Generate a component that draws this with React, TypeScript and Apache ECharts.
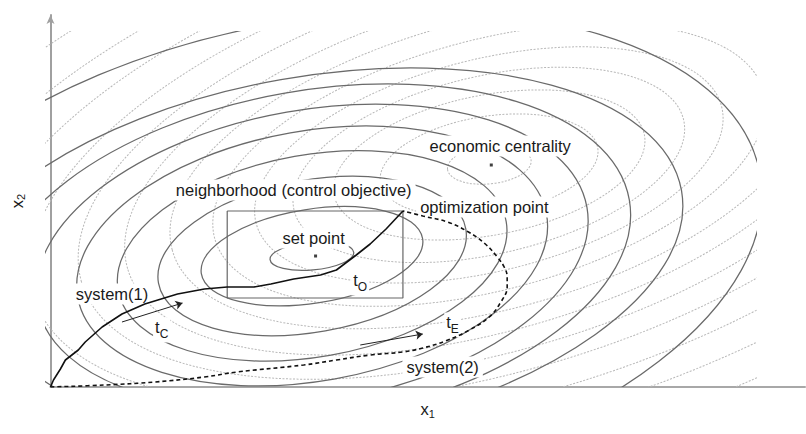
import React, { useEffect, useRef } from "react";
import * as echarts from "echarts";

// Abstract state space (x1, x2) units
const setPoint = [267, 131];
const economicCentrality = [444, 222];

// contour ellipses of the control objective, centred on the set point: [semi-major, semi-minor, tilt in degrees]
const controlContours = [
  [42, 14, 5],
  [112, 47, 9],
  [156, 76, 10],
  [197, 101, 10],
  [238, 125, 10],
  [279, 146, 10],
  [322, 165, 10],
  [375, 179, 10],
  [455, 235, 10.4],
];

// contour ellipses of the economic objective, centred on the economic centrality
const economicContours = [
  [42, 19, 6],
  [110, 49, 9],
  [158, 70, 11],
  [200, 89, 13],
  [240, 106, 14],
  [284, 125, 15],
  [328, 145, 15],
  [376, 166, 16],
  [424, 187, 16],
  [474, 208, 16],
  [532, 234, 16],
  [595, 261, 16],
  [665, 292, 16],
];

// neighbourhood box (control objective)
const boxX = [178, 355, 355, 178, 178];
const boxY = [176, 176, 89, 89, 176];

// trajectories
const system1X = [0, 3, 10, 15, 28, 35, 52, 72, 95, 118, 128, 155, 178, 205, 222, 245, 272, 288, 308, 322, 338, 355];
const system1Y = [0, 7, 18, 27, 37, 45, 60, 73, 83, 90, 93, 98, 100, 100, 103, 108, 112, 117, 132, 143, 158, 176];
const system2X = [0, 55, 105, 155, 188, 255, 288, 322, 355, 375, 398, 422, 442, 453, 460, 460, 457, 450, 438, 421, 400, 375, 355];
const system2Y = [0, 2, 5, 10, 15, 22, 27, 32, 35, 39, 46, 57, 70, 84, 100, 110, 120, 130, 143, 155, 165, 171, 176];

// direction arrows
const arrowsFrom = [[72, 65], [312, 42]];
const arrowsTo = [[133, 84], [375, 53]];

// annotations
const annotationText = [
  "economic centrality",
  "neighborhood (control objective)",
  "optimization point",
  "set point",
  "system(1)",
  "system(2)",
];
const annotationX = [453, 245, 437, 265, 62, 395];
const annotationY = [241, 197, 180, 149, 93, 20];

const timeSubscripts = ["C", "O", "E"];
const timeX = [112, 312, 405];
const timeY = [57, 104, 62];

const FONT = '"Liberation Sans", Arial, Helvetica, sans-serif';

export default function App() {
  const ref = useRef<HTMLDivElement>(null);

  useEffect(() => {
    if (!ref.current) return;
    const chart = echarts.init(ref.current, null, { renderer: "svg" });

    const ellipseRender = (color: string, width: number, dash: number[] | null) =>
      (params: any, api: any) => {
        const c = api.coord([api.value(0), api.value(1)]);
        const s = api.size([api.value(2), api.value(3)]);
        return {
          type: "ellipse",
          shape: { cx: c[0], cy: c[1], rx: s[0], ry: s[1] },
          originX: c[0],
          originY: c[1],
          rotation: (api.value(4) * Math.PI) / 180,
          style: { fill: "none", stroke: color, lineWidth: width, lineDash: dash },
          silent: true,
        };
      };

    const textStyle = {
      fill: "#1a1a1a",
      fontSize: 16.5,
      fontFamily: FONT,
      align: "center",
      verticalAlign: "middle",
      backgroundColor: "#fff",
      padding: [2, 4],
    };

    const axisName = {
      rich: {
        v: { fontSize: 16.5, fontFamily: FONT, color: "#1a1a1a" },
        s: { fontSize: 11, fontFamily: FONT, color: "#1a1a1a", padding: [9, 0, 0, 0] },
      },
    };

    chart.setOption({
      animation: false,
      backgroundColor: "#fff",
      grid: [
        { left: 45, top: 31, width: 712, height: 356 },
        { left: 45, top: 15, width: 760, height: 372 },
      ],
      xAxis: [
        { gridIndex: 0, type: "value", min: 0, max: 712, show: false },
        {
          gridIndex: 1,
          type: "value",
          min: 0,
          max: 760,
          splitLine: { show: false },
          axisTick: { show: false },
          axisLabel: { show: false },
          axisLine: { show: true, lineStyle: { color: "#a8a8a8", width: 2 } },
          name: "{v|x}{s|1}",
          nameLocation: "middle",
          nameGap: 12,
          nameTextStyle: axisName,
        },
      ],
      yAxis: [
        { gridIndex: 0, type: "value", min: 0, max: 356, show: false },
        {
          gridIndex: 1,
          type: "value",
          min: 0,
          max: 372,
          splitLine: { show: false },
          axisTick: { show: false },
          axisLabel: { show: false },
          axisLine: {
            show: true,
            symbol: ["none", "arrow"],
            symbolSize: [6, 9],
            lineStyle: { color: "#a0a0a0", width: 2 },
          },
          name: "{v|x}{s|2}",
          nameLocation: "middle",
          nameGap: 24,
          nameRotate: 90,
          nameTextStyle: axisName,
        },
      ],
      series: [
        {
          type: "custom",
          name: "economic contours",
          xAxisIndex: 0,
          yAxisIndex: 0,
          clip: true,
          z: 1,
          data: economicContours.map((c) => [...economicCentrality, ...c]),
          renderItem: ellipseRender("#b8b8b8", 1, [2, 1.5]),
        },
        {
          type: "custom",
          name: "control contours",
          xAxisIndex: 0,
          yAxisIndex: 0,
          clip: true,
          z: 2,
          data: controlContours.map((c) => [...setPoint, ...c]),
          renderItem: ellipseRender("#6a6a6a", 1.25, null),
        },
        {
          type: "custom",
          name: "annotations",
          xAxisIndex: 1,
          yAxisIndex: 1,
          z: 3,
          data: annotationText.map((t, i) => [annotationX[i], annotationY[i]]),
          renderItem: (params: any, api: any) => {
            const p = api.coord([api.value(0), api.value(1)]);
            return {
              type: "text",
              x: p[0],
              y: p[1],
              style: { ...textStyle, text: annotationText[params.dataIndex] },
              silent: true,
            };
          },
        },
        {
          type: "custom",
          name: "time labels",
          xAxisIndex: 1,
          yAxisIndex: 1,
          z: 3,
          data: timeSubscripts.map((t, i) => [timeX[i], timeY[i]]),
          renderItem: (params: any, api: any) => {
            const p = api.coord([api.value(0), api.value(1)]);
            return {
              type: "text",
              x: p[0],
              y: p[1],
              style: {
                ...textStyle,
                padding: [1, 2],
                text: "{t|t}{s|" + timeSubscripts[params.dataIndex] + "}",
                rich: {
                  t: { fontSize: 16.5, fontFamily: FONT, fill: "#1a1a1a", padding: [0, 0, 6, 0] },
                  s: { fontSize: 12, fontFamily: FONT, fill: "#1a1a1a", padding: [8, 0, 0, 0] },
                },
              },
              silent: true,
            };
          },
        },
        {
          type: "line",
          name: "neighborhood",
          xAxisIndex: 1,
          yAxisIndex: 1,
          z: 4,
          showSymbol: false,
          data: boxX.map((x, i) => [x, boxY[i]]),
          lineStyle: { color: "#666", width: 1.2 },
        },
        {
          type: "line",
          name: "system(1)",
          xAxisIndex: 1,
          yAxisIndex: 1,
          z: 5,
          showSymbol: false,
          data: system1X.map((x, i) => [x, system1Y[i]]),
          lineStyle: { color: "#111", width: 1.6 },
        },
        {
          type: "line",
          name: "system(2)",
          xAxisIndex: 1,
          yAxisIndex: 1,
          z: 5,
          showSymbol: false,
          smooth: 0.4,
          data: system2X.map((x, i) => [x, system2Y[i]]),
          lineStyle: { color: "#111", width: 1.6, type: [4, 3] },
        },
        {
          type: "lines",
          name: "arrows",
          coordinateSystem: "cartesian2d",
          xAxisIndex: 1,
          yAxisIndex: 1,
          z: 5,
          symbol: ["none", "arrow"],
          symbolSize: 7,
          data: arrowsFrom.map((f, i) => ({ coords: [f, arrowsTo[i]] })),
          lineStyle: { color: "#222", width: 1, opacity: 1 },
        },
        {
          type: "scatter",
          name: "points",
          xAxisIndex: 1,
          yAxisIndex: 1,
          z: 6,
          symbol: "rect",
          symbolSize: 3,
          data: [setPoint, economicCentrality],
          itemStyle: { color: "#111" },
        },
      ],
    });

    return () => chart.dispose();
  }, []);

  return (
    <div
      ref={ref}
      style={{ position: "absolute", left: 0, top: 0, width: 806, height: 434 }}
    />
  );
}
